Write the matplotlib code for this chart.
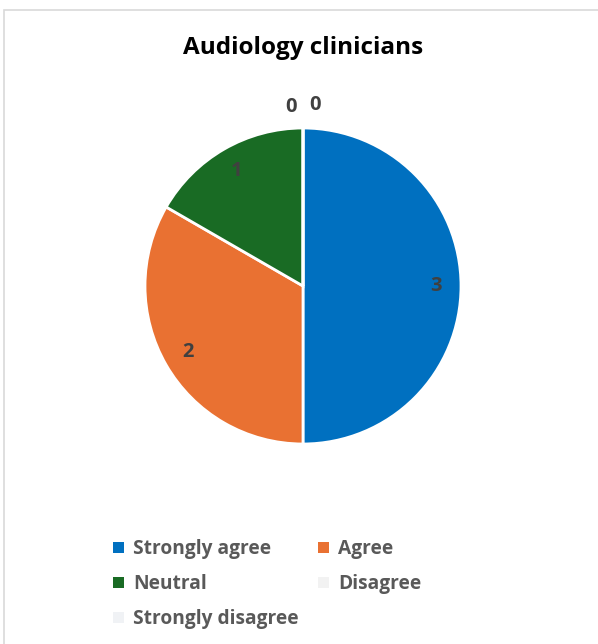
import numpy as np
import matplotlib.pyplot as plt
from matplotlib.patches import Rectangle

categories = ["Strongly agree", "Agree", "Neutral", "Disagree", "Strongly disagree"]
values = [3, 2, 1, 0, 0]
colors = ["#0070C0", "#E97132", "#196B24", "#F2F2F2", "#F0F2F5"]

plt.rcParams['font.family'] = ['Open Sans', 'DejaVu Sans']

fig = plt.figure(figsize=(5.98, 6.44), dpi=100)
# light border around the chart area
fig.patches.append(Rectangle((4 / 598, -0.01), 1.0, 1 - 10 / 644 + 0.01,
                             transform=fig.transFigure, fill=False,
                             edgecolor="#D9D9D9", linewidth=1.2))

r_px = 158
ax = fig.add_axes([(303 - r_px) / 598, (644 - 444) / 644, 2 * r_px / 598, 2 * r_px / 644])
wedges, texts = ax.pie(values, colors=colors, startangle=90, counterclock=False,
                       labels=[str(v) if v else "" for v in values], labeldistance=0.84,
                       wedgeprops=dict(edgecolor="white", linewidth=2),
                       textprops=dict(color="#404040", fontsize=14.5, fontweight="bold"))
for t in texts:
    t.set_ha("center")
    t.set_va("center")
ax.set_xlim(-1, 1)
ax.set_ylim(-1, 1)
ax.set_aspect("equal")

# zero-value labels sit just outside the rim, nudged apart
zeros = [i for i, v in enumerate(values) if v == 0]
for k, i in enumerate(zeros):
    ang = np.deg2rad((wedges[i].theta1 + wedges[i].theta2) / 2)
    dx = (k - (len(zeros) - 1) / 2) * 0.15
    ax.text(1.13 * np.cos(ang) + dx, 1.13 * np.sin(ang) + 0.015 * k, str(values[i]),
            ha="center", va="center", color="#404040", fontsize=14.5, fontweight="bold")

fig.text(303 / 598, 1 - 48 / 644, "Audiology clinicians", ha="center", va="center",
         fontsize=17.5, fontweight="bold", color="black")

# legend filled row by row
order = [0, 2, 4, 1, 3]
leg = fig.legend([wedges[i] for i in order], [categories[i] for i in order],
                 loc="upper left", bbox_to_anchor=(96 / 598, 1 - 522 / 644),
                 ncol=2, frameon=False, handlelength=0.55, handleheight=0.55,
                 handletextpad=0.5, columnspacing=1.0, labelspacing=0.78,
                 prop=dict(size=13.8, weight="bold"))
for t in leg.get_texts():
    t.set_color("#595959")
for h in leg.legend_handles:
    h.set_edgecolor("none")

fig.savefig("out.png", dpi=100)
